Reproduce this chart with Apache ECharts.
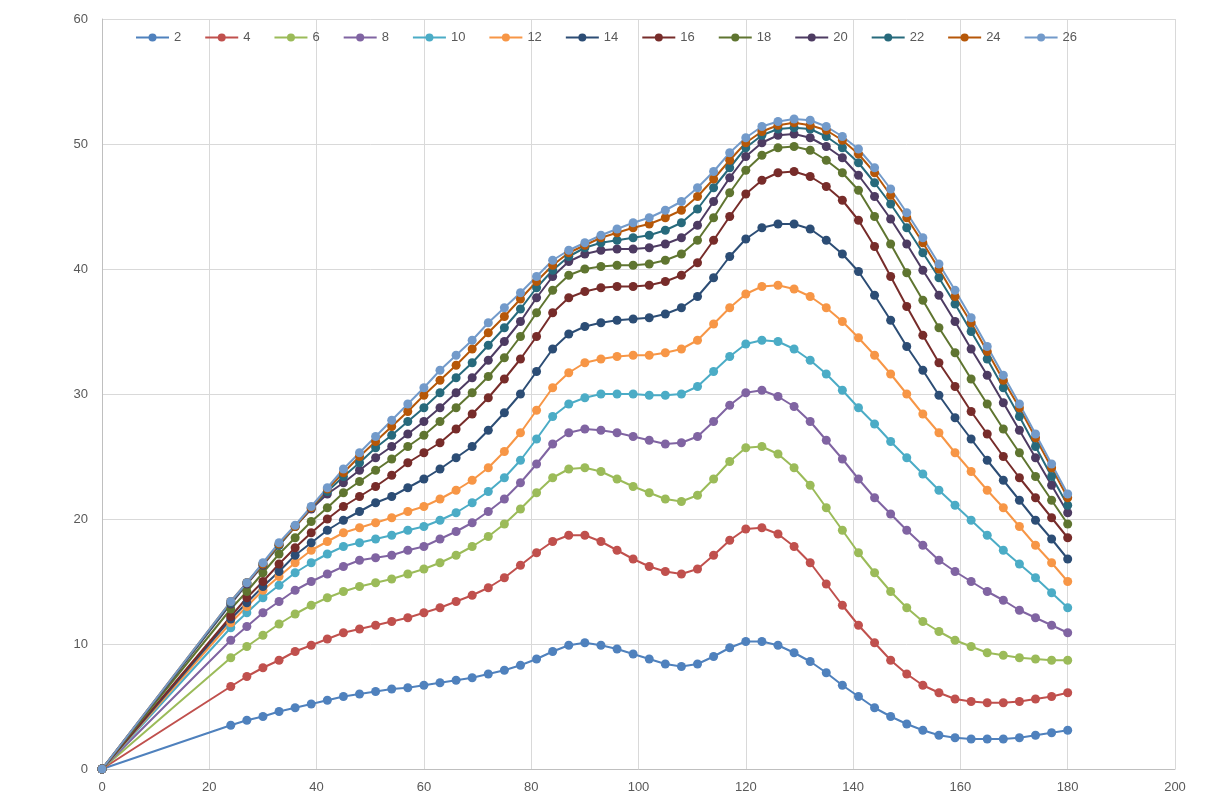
<!DOCTYPE html>
<html>
<head>
<meta charset="utf-8">
<script src="https://cdn.jsdelivr.net/npm/echarts@6/dist/echarts.min.js"></script>
<style>
  html, body { margin: 0; padding: 0; background: #fff; }
  #chart { width: 1213px; height: 794px; }
</style>
</head>
<body>
<div id="chart"></div>
<script>
// x positions (0, then 24..180 every 3)
const xValues = [0, 24, 27, 30, 33, 36, 39, 42, 45, 48, 51, 54, 57, 60, 63, 66, 69, 72, 75, 78, 81,
  84, 87, 90, 93, 96, 99, 102, 105, 108, 111, 114, 117, 120, 123, 126, 129, 132, 135, 138, 141,
  144, 147, 150, 153, 156, 159, 162, 165, 168, 171, 174, 177, 180];

const seriesNames = ["2", "4", "6", "8", "10", "12", "14", "16", "18", "20", "22", "24", "26"];

const colors = ["#4F81BD", "#C0504D", "#9BBB59", "#8064A2", "#4BACC6", "#F79646",
  "#2C4D75", "#772C2A", "#5F7530", "#4D3B62", "#276A7C", "#B65708", "#729ACA"];

const s2 = [0, 3.5, 3.9, 4.2, 4.6, 4.9, 5.2, 5.5, 5.8, 6.0, 6.2,
  6.4, 6.5, 6.7, 6.9, 7.1, 7.3, 7.6, 7.9, 8.3, 8.8,
  9.4, 9.9, 10.1, 9.9, 9.6, 9.2, 8.8, 8.4, 8.2, 8.4,
  9.0, 9.7, 10.2, 10.2, 9.9, 9.3, 8.6, 7.7, 6.7, 5.8,
  4.9, 4.2, 3.6, 3.1, 2.7, 2.5, 2.4, 2.4, 2.4, 2.5,
  2.7, 2.9, 3.1];
const s4 = [0, 6.6, 7.4, 8.1, 8.7, 9.4, 9.9, 10.4, 10.9, 11.2, 11.5,
  11.8, 12.1, 12.5, 12.9, 13.4, 13.9, 14.5, 15.3, 16.3, 17.3,
  18.2, 18.7, 18.7, 18.2, 17.5, 16.8, 16.2, 15.8, 15.6, 16.0,
  17.1, 18.3, 19.2, 19.3, 18.8, 17.8, 16.5, 14.8, 13.1, 11.5,
  10.1, 8.7, 7.6, 6.7, 6.1, 5.6, 5.4, 5.3, 5.3, 5.4,
  5.6, 5.8, 6.1];
const s6 = [0, 8.9, 9.8, 10.7, 11.6, 12.4, 13.1, 13.7, 14.2, 14.6, 14.9,
  15.2, 15.6, 16.0, 16.5, 17.1, 17.8, 18.6, 19.6, 20.8, 22.1,
  23.3, 24.0, 24.1, 23.8, 23.2, 22.6, 22.1, 21.6, 21.4, 21.9,
  23.2, 24.6, 25.7, 25.8, 25.2, 24.1, 22.7, 20.9, 19.1, 17.3,
  15.7, 14.2, 12.9, 11.8, 11.0, 10.3, 9.8, 9.3, 9.1, 8.9,
  8.8, 8.7, 8.7];
const s8 = [0, 10.3, 11.4, 12.5, 13.4, 14.3, 15.0, 15.6, 16.2, 16.7, 16.9,
  17.1, 17.5, 17.8, 18.4, 19.0, 19.7, 20.6, 21.6, 22.9, 24.4,
  26.0, 26.9, 27.2, 27.1, 26.9, 26.6, 26.3, 26.0, 26.1, 26.6,
  27.8, 29.1, 30.1, 30.3, 29.8, 29.0, 27.8, 26.3, 24.8, 23.2,
  21.7, 20.4, 19.1, 17.9, 16.7, 15.8, 15.0, 14.2, 13.5, 12.7,
  12.1, 11.5, 10.9];
const s10 = [0, 11.3, 12.5, 13.7, 14.7, 15.7, 16.5, 17.2, 17.8, 18.1, 18.4,
  18.7, 19.1, 19.4, 19.9, 20.5, 21.3, 22.2, 23.3, 24.7, 26.4,
  28.2, 29.2, 29.7, 30.0, 30.0, 30.0, 29.9, 29.9, 30.0, 30.6,
  31.8, 33.0, 34.0, 34.3, 34.2, 33.6, 32.7, 31.6, 30.3, 28.9,
  27.6, 26.2, 24.9, 23.6, 22.3, 21.1, 19.9, 18.7, 17.5, 16.4,
  15.3, 14.1, 12.9];
const s12 = [0, 11.7, 13.0, 14.3, 15.4, 16.5, 17.5, 18.2, 18.9, 19.3, 19.7,
  20.1, 20.6, 21.0, 21.6, 22.3, 23.1, 24.1, 25.4, 26.9, 28.7,
  30.5, 31.7, 32.5, 32.8, 33.0, 33.1, 33.1, 33.3, 33.6, 34.3,
  35.6, 36.9, 38.0, 38.6, 38.7, 38.4, 37.8, 36.9, 35.8, 34.5,
  33.1, 31.6, 30.0, 28.4, 26.9, 25.3, 23.8, 22.3, 20.9, 19.4,
  17.9, 16.5, 15.0];
const s14 = [0, 12.0, 13.3, 14.6, 15.8, 17.1, 18.1, 19.1, 19.9, 20.6, 21.3,
  21.8, 22.5, 23.2, 24.0, 24.9, 25.8, 27.1, 28.5, 30.0, 31.8,
  33.6, 34.8, 35.4, 35.7, 35.9, 36.0, 36.1, 36.4, 36.9, 37.8,
  39.3, 41.0, 42.4, 43.3, 43.6, 43.6, 43.2, 42.3, 41.2, 39.8,
  37.9, 35.9, 33.8, 31.9, 29.9, 28.1, 26.4, 24.7, 23.1, 21.5,
  19.9, 18.4, 16.8];
const s16 = [0, 12.2, 13.7, 15.0, 16.4, 17.7, 18.9, 20.0, 21.0, 21.8, 22.6,
  23.5, 24.5, 25.3, 26.1, 27.2, 28.4, 29.7, 31.2, 32.8, 34.6,
  36.5, 37.7, 38.2, 38.5, 38.6, 38.6, 38.7, 39.0, 39.5, 40.5,
  42.3, 44.2, 46.0, 47.1, 47.7, 47.8, 47.4, 46.6, 45.5, 43.9,
  41.8, 39.4, 37.0, 34.7, 32.5, 30.6, 28.6, 26.8, 25.0, 23.3,
  21.7, 20.1, 18.5];
const s18 = [0, 12.8, 14.2, 15.7, 17.2, 18.5, 19.8, 20.9, 22.1, 23.0, 23.9,
  24.8, 25.8, 26.7, 27.8, 28.9, 30.1, 31.4, 32.9, 34.6, 36.5,
  38.3, 39.5, 40.0, 40.2, 40.3, 40.3, 40.4, 40.7, 41.2, 42.3,
  44.1, 46.1, 47.9, 49.1, 49.7, 49.8, 49.5, 48.7, 47.7, 46.3,
  44.2, 42.0, 39.7, 37.5, 35.3, 33.3, 31.2, 29.2, 27.2, 25.3,
  23.4, 21.5, 19.6];
const s20 = [0, 13.2, 14.8, 16.3, 17.9, 19.4, 20.8, 22.0, 22.9, 23.9, 24.9,
  25.8, 26.8, 27.8, 28.9, 30.1, 31.3, 32.7, 34.2, 35.8, 37.7,
  39.4, 40.6, 41.2, 41.5, 41.6, 41.6, 41.7, 42.0, 42.5, 43.5,
  45.4, 47.3, 49.0, 50.1, 50.7, 50.8, 50.5, 49.8, 48.9, 47.5,
  45.8, 44.0, 42.0, 39.9, 37.9, 35.8, 33.6, 31.5, 29.3, 27.1,
  24.9, 22.7, 20.5];
const s22 = [0, 13.3, 14.9, 16.4, 17.9, 19.4, 20.9, 22.2, 23.4, 24.5, 25.7,
  26.7, 27.8, 28.9, 30.1, 31.3, 32.5, 33.9, 35.3, 36.8, 38.5,
  39.9, 41.0, 41.7, 42.1, 42.3, 42.5, 42.7, 43.1, 43.7, 44.8,
  46.5, 48.1, 49.7, 50.7, 51.2, 51.3, 51.2, 50.6, 49.7, 48.5,
  46.9, 45.2, 43.3, 41.3, 39.3, 37.2, 35.0, 32.8, 30.5, 28.2,
  25.8, 23.4, 21.1];
const s24 = [0, 13.4, 14.9, 16.4, 18.0, 19.4, 20.9, 22.4, 23.7, 25.0, 26.2,
  27.4, 28.6, 29.9, 31.1, 32.3, 33.6, 34.9, 36.2, 37.6, 39.0,
  40.3, 41.3, 41.9, 42.5, 42.9, 43.3, 43.6, 44.1, 44.7, 45.8,
  47.2, 48.7, 50.1, 51.0, 51.5, 51.7, 51.5, 51.1, 50.3, 49.2,
  47.7, 45.9, 44.1, 42.1, 40.0, 37.8, 35.7, 33.4, 31.1, 28.9,
  26.5, 24.1, 21.7];
const s26 = [0, 13.4, 14.9, 16.5, 18.1, 19.5, 21.0, 22.5, 24.0, 25.3, 26.6,
  27.9, 29.2, 30.5, 31.9, 33.1, 34.3, 35.7, 36.9, 38.1, 39.4,
  40.7, 41.5, 42.1, 42.7, 43.2, 43.7, 44.1, 44.7, 45.4, 46.5,
  47.8, 49.3, 50.5, 51.4, 51.8, 52.0, 51.9, 51.4, 50.6, 49.6,
  48.1, 46.4, 44.5, 42.5, 40.4, 38.3, 36.1, 33.8, 31.5, 29.2,
  26.8, 24.4, 22.0];

const allValues = [s2, s4, s6, s8, s10, s12, s14, s16, s18, s20, s22, s24, s26];

const chart = echarts.init(document.getElementById("chart"));

const series = seriesNames.map((name, i) => ({
  name: name,
  type: "line",
  data: xValues.map((x, j) => [x, allValues[i][j]]),
  symbol: "circle",
  symbolSize: 9,
  color: colors[i],
  lineStyle: { width: 2 },
  itemStyle: { color: colors[i] },
}));

chart.setOption({
  animation: false,
  backgroundColor: "#fff",
  textStyle: { fontFamily: "Liberation Sans, Arial, sans-serif" },
  legend: {
    data: seriesNames,
    left: 130,
    top: 26,
    itemWidth: 33,
    itemHeight: 10,
    itemGap: 23,
    textStyle: { fontSize: 13, color: "#595959" },
  },
  grid: { left: 102, right: 38, top: 19, bottom: 25 },
  xAxis: {
    type: "value",
    min: 0,
    max: 200,
    interval: 20,
    axisLine: { lineStyle: { color: "#BFBFBF", width: 1 } },
    axisTick: { show: false },
    axisLabel: { color: "#595959", fontSize: 13, margin: 12 },
    splitLine: { show: true, lineStyle: { color: "#D9D9D9" } },
  },
  yAxis: {
    type: "value",
    min: 0,
    max: 60,
    interval: 10,
    axisLine: { show: true, lineStyle: { color: "#BFBFBF", width: 1 } },
    axisTick: { show: false },
    axisLabel: { color: "#595959", fontSize: 13, margin: 14 },
    splitLine: { show: true, lineStyle: { color: "#D9D9D9" } },
  },
  series: series,
});
</script>
</body>
</html>
